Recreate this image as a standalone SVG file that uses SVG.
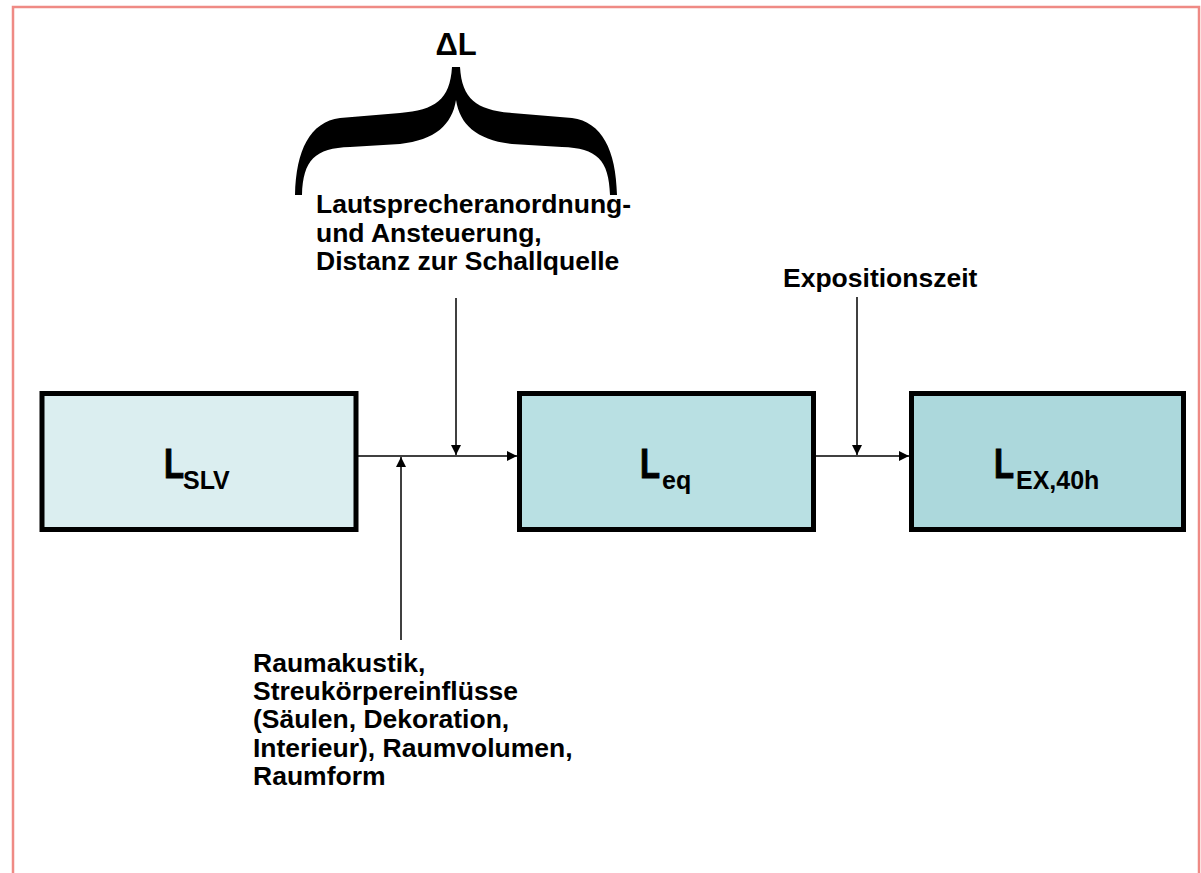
<svg xmlns="http://www.w3.org/2000/svg" width="1201" height="873" viewBox="0 0 1201 873">
  <style>
    .t { font-family: "Liberation Sans", Arial, sans-serif; font-weight: bold; fill: #000; }
    .lbl { font-size: 26.5px; }
    .big { font-size: 42px; stroke: #000; stroke-width: 1; }
    .sub { font-size: 25px; }
    .box { stroke: #000; stroke-width: 5; }
    .ln { stroke: #000; stroke-width: 1.5; fill: none; }
  </style>
  <defs>
    <marker id="ah" viewBox="0 0 10 10" refX="10" refY="5" markerWidth="12" markerHeight="10" markerUnits="userSpaceOnUse" orient="auto">
      <path d="M0,0 L10,5 L0,10 Z" fill="#000"/>
    </marker>
  </defs>
  <rect x="0" y="0" width="1201" height="873" fill="#fff"/>
  <rect x="13" y="7" width="1186" height="900" fill="none" stroke="#ef8a85" stroke-width="2.5"/>

  <g id="brace">
    <text class="t" x="456" y="55" font-size="31" text-anchor="middle">ΔL</text>
    <path d="M452,67 C450,100 435,110 400,113 L340,118 C310,122 296,150 295,195 L302,195 C303,160 315,148 350,147 L400,144 C435,140 452,125 456,100 C460,125 477,140 512,144 L562,147 C597,148 609,160 610,195 L617,195 C616,150 602,122 572,118 L512,113 C477,110 462,100 460,67 Z" fill="#000"/>
  </g>

  <g id="label-top">
    <text class="t lbl" x="316" y="213">Lautsprecheranordnung-</text>
    <text class="t lbl" x="316" y="242">und Ansteuerung,</text>
    <text class="t lbl" x="316" y="270">Distanz zur Schallquelle</text>
  </g>

  <g id="label-exp">
    <text class="t lbl" x="783" y="287">Expositionszeit</text>
  </g>

  <g id="label-bottom">
    <text class="t lbl" x="253" y="672">Raumakustik,</text>
    <text class="t lbl" x="253" y="700">Streukörpereinflüsse</text>
    <text class="t lbl" x="253" y="728">(Säulen, Dekoration,</text>
    <text class="t lbl" x="253" y="757">Interieur), Raumvolumen,</text>
    <text class="t lbl" x="253" y="785">Raumform</text>
  </g>

  <g id="node-lslv">
    <rect class="box" x="42" y="393.5" width="314" height="136" fill="#dbeef0"/>
    <text class="t big" transform="translate(164,478) scale(0.78,1)">L</text>
    <text class="t sub" x="183" y="489">SLV</text>
  </g>

  <g id="node-leq">
    <rect class="box" x="519.5" y="393.5" width="294" height="136" fill="#b9e0e3"/>
    <text class="t big" transform="translate(640,478) scale(0.78,1)">L</text>
    <text class="t sub" x="662" y="489">eq</text>
  </g>

  <g id="node-lex">
    <rect class="box" x="911.5" y="393.5" width="272" height="136" fill="#acd8dc"/>
    <text class="t big" transform="translate(994,478) scale(0.78,1)">L</text>
    <text class="t sub" x="1016" y="489">EX,40h</text>
  </g>

  <g id="connectors">
    <line class="ln" x1="358" y1="456" x2="517" y2="456" marker-end="url(#ah)"/>
    <line class="ln" x1="456" y1="298" x2="456" y2="455" marker-end="url(#ah)" stroke="#333"/>
    <line class="ln" x1="401" y1="640" x2="401" y2="457" marker-end="url(#ah)" stroke="#333"/>
    <line class="ln" x1="816" y1="456" x2="909" y2="456" marker-end="url(#ah)"/>
    <line class="ln" x1="857" y1="297" x2="857" y2="455" marker-end="url(#ah)" stroke="#333"/>
  </g>
</svg>
